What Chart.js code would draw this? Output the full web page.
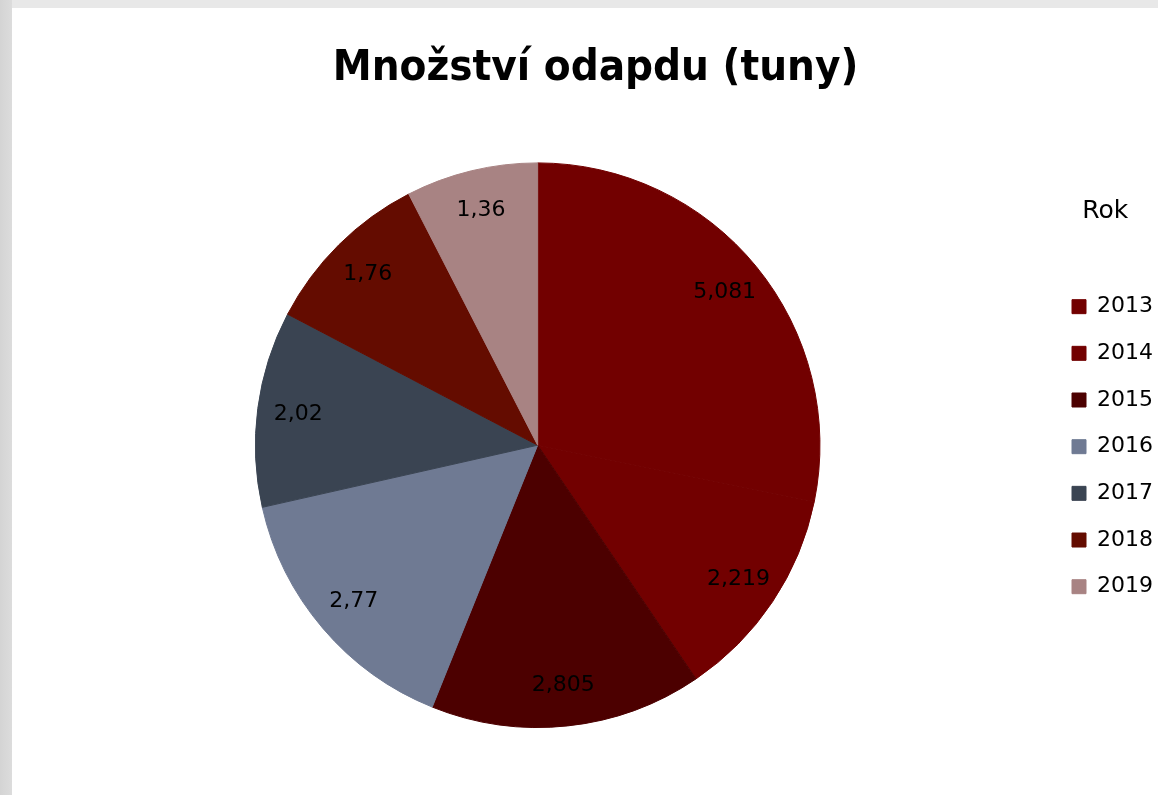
<!DOCTYPE html>
<html lang="cs">
<head>
<meta charset="utf-8">
<title>Množství odpadu</title>
<script src="https://cdn.jsdelivr.net/npm/chart.js@4.4.1/dist/chart.umd.min.js"></script>
<style>
  html, body { margin: 0; padding: 0; }
  body {
    width: 1158px; height: 795px; overflow: hidden;
    background: linear-gradient(to right, #d4d4d4 0px, #dcdcdc 12px, #e8e8e8 12px);
  }
  #frame {
    position: absolute; left: 12px; top: 8px;
    width: 1146px; height: 787px; background: #ffffff;
  }
</style>
</head>
<body>
<div id="frame"><canvas id="pieChart" width="1146" height="787"></canvas></div>
<script>
// data
const years = ['2013', '2014', '2015', '2016', '2017', '2018', '2019'];
const tons = [5.081, 2.219, 2.805, 2.77, 2.02, 1.76, 1.36];
const sliceColors = ['#720000', '#720000', '#4c0000', '#6f7a93', '#3a4452', '#640c00', '#a88383'];

function formatCz(value) {
    return String(value).replace('.', ',');
}

// draws the value inside each slice, near the outer edge
const sliceLabels = {
    id: 'sliceLabels',
    afterDatasetsDraw(chart) {
        const ctx = chart.ctx;
        const meta = chart.getDatasetMeta(0);
        ctx.save();
        ctx.font = '22px "DejaVu Sans"';
        ctx.fillStyle = '#000';
        ctx.textAlign = 'center';
        ctx.textBaseline = 'middle';
        meta.data.forEach(function (arc, i) {
            const p = arc.getProps(['x', 'y', 'startAngle', 'endAngle', 'outerRadius'], true);
            const mid = (p.startAngle + p.endAngle) / 2;
            const r = p.outerRadius * 0.855;
            ctx.fillText(formatCz(tons[i]), p.x + Math.cos(mid) * r, p.y + Math.sin(mid) * r);
        });
        ctx.restore();
    }
};

const ctx = document.getElementById('pieChart').getContext('2d');
const chart = new Chart(ctx, {
    type: 'pie',
    data: {
        labels: years,
        datasets: [{
            data: tons,
            backgroundColor: sliceColors,
            borderColor: sliceColors, // hides the seams between equal colours
            borderWidth: 1
        }]
    },
    options: {
        responsive: false,
        animation: false,
        layout: { padding: { left: 16, right: -5, bottom: 67 } },
        plugins: {
            title: {
                display: true,
                text: 'Množství odapdu (tuny)',
                color: '#000',
                font: { family: '"DejaVu Sans Condensed", "DejaVu Sans"', size: 43.5, weight: 'bold' },
                padding: { top: 35, bottom: 67.2 }
            },
            legend: {
                position: 'right',
                align: 'start',
                title: {
                    display: true,
                    text: 'Rok',
                    color: '#000',
                    font: { family: '"DejaVu Sans"', size: 25 },
                    padding: { top: 191, bottom: 42 }
                },
                labels: {
                    color: '#000',
                    boxWidth: 14,
                    boxHeight: 14,
                    padding: 24.67,
                    font: { family: '"DejaVu Sans"', size: 22 }
                }
            },
            tooltip: { enabled: false }
        }
    },
    plugins: [sliceLabels]
});
</script>
</body>
</html>
